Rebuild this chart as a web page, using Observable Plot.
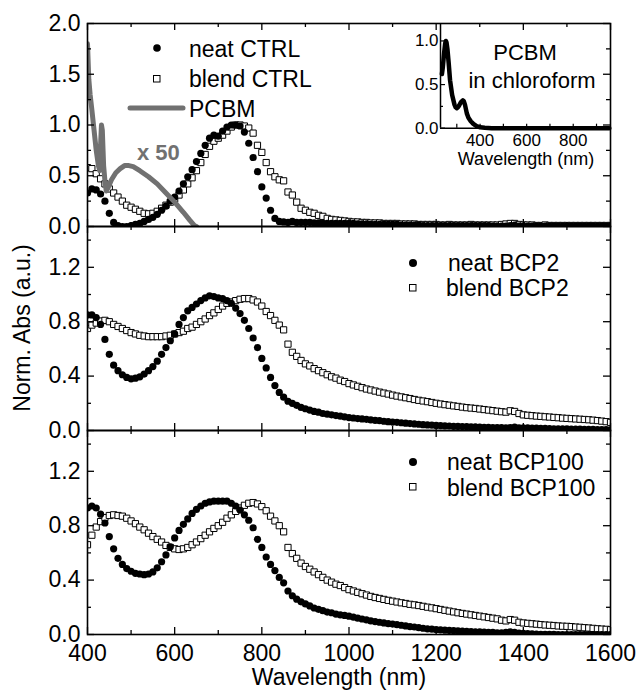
<!DOCTYPE html>
<html><head><meta charset="utf-8">
<script src="https://cdn.jsdelivr.net/npm/d3@7"></script>
<script src="https://cdn.jsdelivr.net/npm/@observablehq/plot@0.6"></script>
<style>
body{margin:0;background:#fff;}
#chart{position:relative;width:636px;height:693px;font-family:"Liberation Sans",Arial,sans-serif;}
#chart svg{position:absolute;overflow:visible;}
</style></head><body><div id="chart"></div>
<script>
// ---- data ----
const wavelengths = d3.range(400, 1601, 10); // 400..1600 nm, 10 nm step
const xMajor = [400, 600, 800, 1000, 1200, 1400, 1600];
const xMinor = [500, 700, 900, 1100, 1300, 1500];
const topMajor = [0, 0.5, 1.0, 1.5, 2.0];
const topMinor = [0.25, 0.75, 1.25, 1.75];
const lowMajor = [0, 0.4, 0.8, 1.2];
const lowMinor = [0.2, 0.6, 1.0, 1.4];

const neatCTRL = [
0.33,0.37,0.36,0.32,0.25,0.13,0.04,0.01,0.00,0.00,
0.01,0.02,0.03,0.05,0.07,0.09,0.12,0.16,0.20,0.25,
0.29,0.35,0.42,0.49,0.56,0.64,0.72,0.80,0.87,0.90,
0.89,0.94,0.98,1.00,1.00,0.99,0.93,0.82,0.68,0.54,
0.39,0.28,0.16,0.08,0.05,0.045,0.04,0.05,0.04,0.04,
0.04,0.04,0.035,0.035,0.03,0.03,0.03,0.03,0.03,0.03,
0.03,0.03,0.025,0.025,0.025,0.02,0.02,0.02,0.02,0.02,
0.02,0.02,0.015,0.015,0.015,0.015,0.015,0.01,0.01,0.01,
0.01,0.01,0.01,0.01,0.01,0.01,0.01,0.01,0.01,0.01,
0.01,0.01,0.01,0.005,0.005,0.005,0.005,0.01,0.015,0.005,
0.005,0.005,0.005,0.005,0.005,0.005,0.005,0.005,0.005,0.005,
0.005,0.005,0.005,0.005,0.005,0.005,0.005,0.005,0.005,0.005,
0.005];
const blendCTRL = [
0.58,0.57,0.52,0.47,0.42,0.37,0.33,0.29,0.25,0.21,
0.19,0.17,0.15,0.13,0.125,0.13,0.15,0.18,0.21,0.24,
0.27,0.31,0.36,0.42,0.48,0.55,0.63,0.71,0.79,0.84,
0.87,0.90,0.94,0.98,1.00,1.00,0.99,0.97,0.92,0.80,
0.73,0.63,0.54,0.49,0.46,0.45,0.34,0.31,0.24,0.18,
0.16,0.14,0.13,0.11,0.10,0.08,0.07,0.065,0.06,0.055,
0.05,0.045,0.045,0.04,0.04,0.035,0.035,0.035,0.03,0.03,
0.03,0.03,0.025,0.025,0.025,0.025,0.02,0.02,0.02,0.02,
0.02,0.015,0.015,0.02,0.015,0.015,0.015,0.015,0.02,0.015,
0.015,0.015,0.015,0.015,0.015,0.02,0.025,0.03,0.03,0.02,
0.015,0.015,0.015,0.01,0.01,0.015,0.01,0.01,0.01,0.01,
0.01,0.01,0.01,0.01,0.01,0.01,0.01,0.01,0.01,0.01,
0.01];
// PCBM film (x 50), gray line
const pcbmNm  = [400,403,406,410,415,420,425,428,430,432,434,437,440,443,447,455,465,475,485,495,505,520,540,560,580,600,620,635,645,650];
const pcbmAbs = [1.80,1.45,1.30,1.15,0.95,0.75,0.60,0.55,0.80,1.00,0.95,0.60,0.45,0.35,0.38,0.46,0.53,0.57,0.60,0.60,0.59,0.55,0.49,0.42,0.33,0.24,0.14,0.06,0.01,0.0];

const neatBCP2 = [
0.85,0.85,0.83,0.78,0.67,0.56,0.48,0.44,0.41,0.39,
0.38,0.385,0.395,0.415,0.44,0.47,0.51,0.56,0.61,0.66,
0.71,0.78,0.83,0.88,0.905,0.93,0.955,0.975,0.99,0.985,
0.975,0.97,0.955,0.935,0.90,0.86,0.81,0.75,0.68,0.61,
0.53,0.46,0.39,0.33,0.28,0.245,0.215,0.20,0.185,0.17,
0.16,0.15,0.14,0.135,0.125,0.12,0.115,0.11,0.105,0.10,
0.095,0.092,0.088,0.085,0.082,0.078,0.075,0.072,0.068,0.065,
0.062,0.06,0.057,0.054,0.051,0.048,0.046,0.043,0.041,0.039,
0.037,0.036,0.034,0.033,0.031,0.03,0.029,0.028,0.027,0.026,
0.025,0.024,0.023,0.022,0.022,0.021,0.02,0.022,0.025,0.02,
0.02,0.019,0.018,0.017,0.016,0.015,0.014,0.013,0.012,0.012,
0.012,0.011,0.01,0.01,0.009,0.008,0.008,0.007,0.006,0.006,
0.005];
const blendBCP2 = [
0.75,0.775,0.79,0.805,0.81,0.80,0.78,0.765,0.75,0.735,
0.72,0.71,0.70,0.695,0.69,0.69,0.69,0.69,0.695,0.70,
0.71,0.72,0.73,0.75,0.76,0.78,0.80,0.82,0.845,0.865,
0.89,0.915,0.935,0.945,0.955,0.965,0.97,0.97,0.96,0.945,
0.915,0.875,0.845,0.81,0.775,0.74,0.635,0.575,0.545,0.515,
0.49,0.475,0.455,0.44,0.425,0.41,0.395,0.385,0.37,0.36,
0.345,0.335,0.325,0.315,0.305,0.298,0.29,0.282,0.275,0.268,
0.26,0.253,0.247,0.241,0.235,0.228,0.222,0.217,0.212,0.206,
0.20,0.195,0.19,0.186,0.181,0.177,0.172,0.168,0.165,0.162,
0.158,0.154,0.15,0.146,0.142,0.138,0.135,0.145,0.14,0.125,
0.115,0.112,0.109,0.106,0.104,0.101,0.099,0.096,0.094,0.091,
0.089,0.087,0.085,0.083,0.081,0.079,0.076,0.073,0.069,0.065,
0.06];
const neatBCP100 = [
0.93,0.945,0.93,0.885,0.82,0.72,0.63,0.56,0.515,0.485,
0.465,0.45,0.445,0.44,0.445,0.46,0.49,0.535,0.585,0.645,
0.71,0.765,0.81,0.85,0.89,0.92,0.945,0.965,0.975,0.98,
0.98,0.98,0.98,0.965,0.945,0.915,0.88,0.84,0.785,0.70,
0.64,0.57,0.515,0.47,0.42,0.38,0.32,0.285,0.26,0.24,
0.225,0.21,0.195,0.185,0.175,0.165,0.16,0.15,0.145,0.14,
0.135,0.128,0.12,0.114,0.108,0.10,0.095,0.09,0.085,0.08,
0.077,0.072,0.068,0.063,0.058,0.055,0.05,0.046,0.042,0.039,
0.036,0.034,0.032,0.03,0.028,0.026,0.025,0.023,0.022,0.02,
0.019,0.018,0.016,0.015,0.013,0.012,0.015,0.02,0.016,0.01,
0.008,0.006,0.004,0.003,0.002,0.002,0.001,0.001,0,0,
0,0,0,0,0,0,0,0,0,0,
0];
const blendBCP100 = [
0.66,0.73,0.79,0.83,0.86,0.875,0.88,0.875,0.87,0.855,
0.835,0.815,0.79,0.77,0.745,0.72,0.70,0.68,0.655,0.64,
0.63,0.625,0.63,0.64,0.66,0.68,0.705,0.73,0.755,0.78,
0.80,0.825,0.855,0.88,0.905,0.93,0.95,0.965,0.97,0.96,
0.94,0.91,0.87,0.835,0.80,0.755,0.64,0.595,0.56,0.525,
0.50,0.48,0.46,0.44,0.42,0.40,0.385,0.37,0.36,0.345,
0.33,0.32,0.31,0.30,0.29,0.28,0.272,0.265,0.258,0.251,
0.245,0.239,0.233,0.228,0.222,0.218,0.213,0.207,0.201,0.196,
0.19,0.184,0.178,0.172,0.166,0.16,0.155,0.15,0.145,0.14,
0.135,0.13,0.125,0.12,0.115,0.105,0.10,0.11,0.105,0.09,
0.085,0.082,0.079,0.076,0.073,0.07,0.068,0.066,0.063,0.061,
0.06,0.058,0.055,0.053,0.05,0.048,0.045,0.042,0.04,0.038,
0.035];
// inset: PCBM in chloroform
const insetNm  = [236,240,245,250,253,256,260,265,271,280,290,295,300,305,310,318,326,330,335,343,350,360,371,385,400,420,450,500,600,700,800,900,955];
const insetAbs = [0.62,0.70,0.85,0.97,1.00,0.98,0.90,0.75,0.55,0.38,0.27,0.24,0.23,0.24,0.26,0.30,0.32,0.31,0.27,0.17,0.12,0.08,0.05,0.025,0.01,0.005,0,0,0,0,0,0,0];
const insetXLabels = [400, 600, 800];
const insetXTicks = [300, 400, 500, 600, 700, 800, 900];
const insetYMajor = [0, 0.5, 1.0];
const insetYMinor = [0.25, 0.75];

// ---- layout ----
const FONT = '"Liberation Sans", Arial, sans-serif';
const chart = document.getElementById("chart");
const LEFT = 87, RIGHT = 610, PW = RIGHT - LEFT;

function panel({top, bottom, yDomain, yMajor, yMinor, dataMarks, xLabels}) {
  const h = bottom - top;
  const mT = 14, mB = xLabels ? 62 : 14;
  const marks = [
    ...dataMarks,
    Plot.frame({stroke: "black", strokeWidth: 1.6}),
    Plot.tickX(xMajor, {x: d => d, insetTop: h - 7, stroke: "black", strokeWidth: 1.3}),
    Plot.tickX(xMinor, {x: d => d, insetTop: h - 4, stroke: "black", strokeWidth: 1.3}),
    Plot.tickX(xMajor, {x: d => d, insetBottom: h - 7, stroke: "black", strokeWidth: 1.3}),
    Plot.tickX(xMinor, {x: d => d, insetBottom: h - 4, stroke: "black", strokeWidth: 1.3}),
    Plot.tickY(yMajor, {y: d => d, insetRight: PW - 7, stroke: "black", strokeWidth: 1.3}),
    Plot.tickY(yMinor, {y: d => d, insetRight: PW - 4, stroke: "black", strokeWidth: 1.3}),
    Plot.tickY(yMajor, {y: d => d, insetLeft: PW - 7, stroke: "black", strokeWidth: 1.3}),
    Plot.tickY(yMinor, {y: d => d, insetLeft: PW - 4, stroke: "black", strokeWidth: 1.3}),
    Plot.axisY({ticks: yMajor, tickSize: 0, tickPadding: 7, tickFormat: d3.format(".1f"), label: null, fill: "black"})
  ];
  if (xLabels) marks.push(Plot.axisX({ticks: xLabels, tickSize: 0, tickPadding: 10, tickFormat: d => String(d), label: null, fill: "black"}));
  const p = Plot.plot({
    width: 636, height: h + mT + mB,
    marginLeft: LEFT, marginRight: 636 - RIGHT, marginTop: mT, marginBottom: mB,
    x: {domain: [400, 1600], ...(xLabels ? {} : {axis: null})},
    y: {domain: yDomain},
    style: {fontSize: "23px", fontFamily: FONT, background: "none", overflow: "visible", color: "black"},
    marks
  });
  p.style.left = "0px";
  p.style.top = (top - mT) + "px";
  chart.appendChild(p);
}

const circ = arr => Plot.dot(wavelengths, {x: d => d, y: (d, i) => arr[i], r: 3.6, fill: "black", stroke: "none", clip: true});
const sq = arr => Plot.dot(wavelengths, {x: d => d, y: (d, i) => arr[i], symbol: "square", r: 3.5, fill: "white", stroke: "black", strokeWidth: 1, clip: true});

panel({top: 23, bottom: 226, yDomain: [0, 2], yMajor: topMajor, yMinor: topMinor,
  dataMarks: [sq(blendCTRL), circ(neatCTRL),
    Plot.line(pcbmNm, {x: d => d, y: (d, i) => pcbmAbs[i], stroke: "#717171", strokeWidth: 5, clip: true})]});
panel({top: 226, bottom: 430, yDomain: [0, 1.5], yMajor: lowMajor, yMinor: lowMinor,
  dataMarks: [sq(blendBCP2), circ(neatBCP2)]});
panel({top: 430, bottom: 634, yDomain: [0, 1.5], yMajor: lowMajor, yMinor: lowMinor,
  dataMarks: [sq(blendBCP100), circ(neatBCP100)], xLabels: xMajor});

// inset
{
  const iw = RIGHT - 440, ih = 127.7 - 23;
  const mL = 40, mR = 10, mT = 10, mB = 50;
  const p = Plot.plot({
    width: iw + mL + mR, height: ih + mT + mB,
    marginLeft: mL, marginRight: mR, marginTop: mT, marginBottom: mB,
    x: {domain: [230, 960]},
    y: {domain: [0, 1.2]},
    style: {fontSize: "17px", fontFamily: FONT, background: "none", overflow: "visible", color: "black"},
    marks: [
      Plot.ruleX([230], {stroke: "black", strokeWidth: 1.5}),
      Plot.ruleY([0], {stroke: "black", strokeWidth: 1.5}),
      Plot.tickY(insetYMajor, {y: d => d, insetRight: iw - 5, stroke: "black", strokeWidth: 1.2}),
      Plot.tickY(insetYMinor, {y: d => d, insetRight: iw - 3, stroke: "black", strokeWidth: 1.2}),
      Plot.tickX(insetXTicks, {x: d => d, insetTop: ih - 4, stroke: "black", strokeWidth: 1.2}),
      Plot.line(insetNm, {x: d => d, y: (d, i) => insetAbs[i], stroke: "black", strokeWidth: 4.5}),
      Plot.axisY({ticks: insetYMajor, tickSize: 0, tickPadding: 2, tickFormat: d3.format(".1f"), label: null, fill: "black"}),
      Plot.axisX({ticks: insetXLabels, tickSize: 0, tickPadding: 6, tickFormat: d => String(d), label: null, fill: "black"})
    ]
  });
  p.style.left = (440 - mL) + "px";
  p.style.top = (23 - mT) + "px";
  chart.appendChild(p);
}

// labels, legends, annotations
const ov = d3.select(chart).append("svg").attr("width", 636).attr("height", 693)
  .style("left", "0px").style("top", "0px").attr("font-family", FONT).attr("fill", "black");
function txt(x, y, s, size, opts = {}) {
  const t = ov.append("text").attr("x", x).attr("y", y).attr("font-size", size).text(s);
  for (const k in opts) t.attr(k, opts[k]);
  return t;
}
ov.append("text").attr("transform", "translate(30,328) rotate(-90)").attr("text-anchor", "middle")
  .attr("font-size", 23).text("Norm. Abs (a.u.)");
txt(339, 685, "Wavelength (nm)", 23, {"text-anchor": "middle"});

// top legend
ov.append("circle").attr("cx", 157).attr("cy", 48).attr("r", 3.8).attr("fill", "black");
txt(189, 57, "neat CTRL", 23);
ov.append("rect").attr("x", 153.5).attr("y", 75.5).attr("width", 6.5).attr("height", 6.5).attr("fill", "white").attr("stroke", "black").attr("stroke-width", 1);
txt(189, 87, "blend CTRL", 23);
ov.append("line").attr("x1", 130).attr("x2", 183).attr("y1", 108).attr("y2", 108).attr("stroke", "#717171").attr("stroke-width", 5).attr("stroke-linecap", "round");
txt(189, 117, "PCBM", 23);
txt(137, 160, "x 50", 22, {"font-weight": "bold", fill: "#717171"});

// middle legend
ov.append("circle").attr("cx", 413).attr("cy", 263).attr("r", 4).attr("fill", "black");
txt(448, 271, "neat BCP2", 23);
ov.append("rect").attr("x", 409.5).attr("y", 284.5).attr("width", 6.5).attr("height", 6.5).attr("fill", "white").attr("stroke", "black").attr("stroke-width", 1);
txt(446, 296, "blend BCP2", 23);

// bottom legend
ov.append("circle").attr("cx", 413).attr("cy", 462).attr("r", 4).attr("fill", "black");
txt(447, 470, "neat BCP100", 23);
ov.append("rect").attr("x", 409.5).attr("y", 483.5).attr("width", 6.5).attr("height", 6.5).attr("fill", "white").attr("stroke", "black").attr("stroke-width", 1);
txt(447, 496, "blend BCP100", 23);

// inset texts
txt(525, 60, "PCBM", 22, {"text-anchor": "middle"});
txt(532, 88, "in chloroform", 22, {"text-anchor": "middle"});
txt(526, 165, "Wavelength (nm)", 18, {"text-anchor": "middle"});
</script></body></html>
